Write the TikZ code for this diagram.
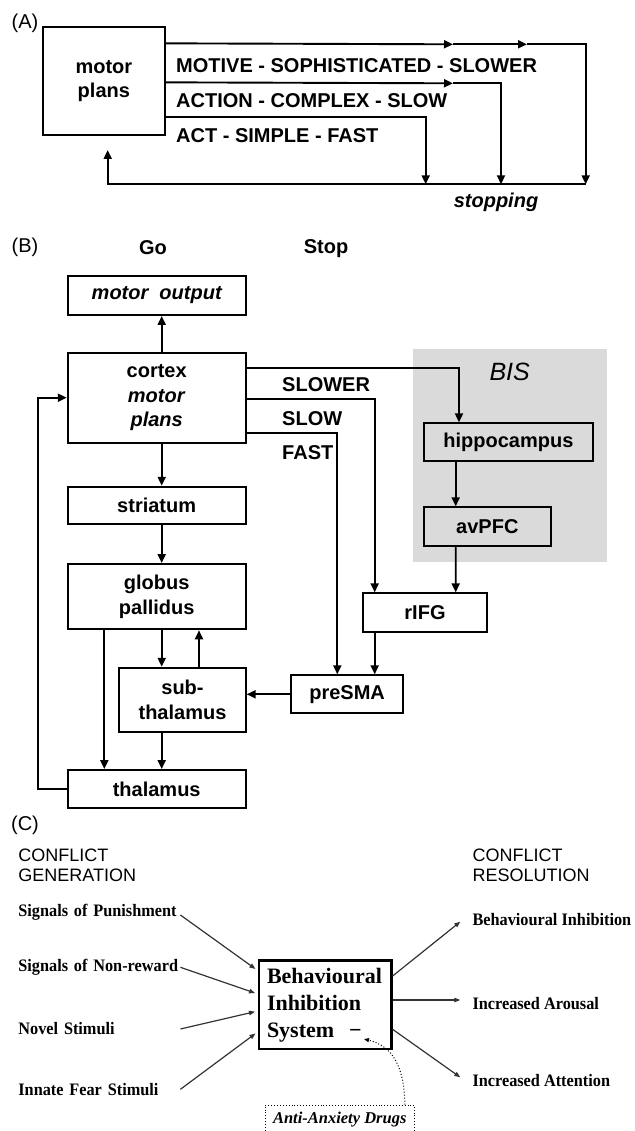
\documentclass[tikz,border=0pt]{standalone}
\usepackage{fontspec}
\setmainfont{Liberation Sans}
\newfontfamily\timesfont{Liberation Serif}
\newfontfamily\itemfont[FakeStretch=0.93]{Liberation Serif}
\usetikzlibrary{arrows.meta,calc}
\definecolor{bisgray}{HTML}{DADADA}

\begin{document}
\begin{tikzpicture}[x=1pt, y=-1pt,
  box/.style={draw, line width=1.9pt, inner sep=0pt, align=center,
    font=\bfseries\fontsize{20}{24.5}\selectfont},
  arr/.style={line width=1.9pt, -{Triangle[length=9pt,width=8pt]}},
  lbl/.style={inner sep=0pt, font=\bfseries\fontsize{20}{24}\selectfont},
  tag/.style={inner sep=0pt, font=\fontsize{20}{24}\selectfont},
  item/.style={inner sep=0pt, anchor=west, align=left,
    font=\itemfont\bfseries\fontsize{17.5}{20}\selectfont},
  thin/.style={line width=1.2pt, black!80, -{Triangle[length=6pt,width=4.5pt]}}]
  \useasboundingbox (0,0) rectangle (634,1131);

  % (A)
  \node[tag] (tagA) at (25,23) {(A)};
  \node[box, minimum width=122.3pt, minimum height=108.3pt] (plans) at (103.85,80.85) {motor\\plans};
  \node[lbl, anchor=base west] (motive) at (176,72.2) {MOTIVE - SOPHISTICATED - SLOWER};
  \node[lbl, anchor=base west] (action) at (176,107.2) {ACTION - COMPLEX - SLOW};
  \node[lbl, anchor=base west] (act) at (176,142.2) {ACT - SIMPLE - FAST};
  \node[lbl, font=\bfseries\itshape\fontsize{20}{24}\selectfont] (stopping) at (496,202) {stopping};
  \coordinate (m1) at (453,44.3);
  \coordinate (m2) at (527,44.3);
  \coordinate (m3) at (453,83.3);
  \coordinate (stop1) at (425.7,184.3);
  \coordinate (stop2) at (501,184.3);
  \coordinate (stop3) at (585.7,184.3);
  \coordinate (ret) at (107.7,184.3);
  \coordinate (retend) at (107.7,150);
  \draw[arr] ($(plans.north east)+(0,17.6)$) -- (m1);
  \draw[arr] (m1) -- (m2);
  \draw[arr] (m2) -| (stop3);
  \draw[arr] ($(plans.north east)+(0,56.6)$) -- (m3);
  \draw[arr] (m3) -| (stop2);
  \draw[arr] ($(plans.north east)+(0,91)$) -| (stop1);
  \draw[arr] (stop3) -- (ret) -- (retend);

  % (B)
  \node[tag] (tagB) at (25,247) {(B)};
  \node[lbl] (go) at (153,248) {Go};
  \node[lbl] (stop) at (326,249) {Stop};
  \fill[bisgray] (413,348.7) rectangle (607.3,562.3);
  \node[inner sep=0pt, font=\itshape\fontsize{25}{30}\selectfont] (bis) at (509.7,371.7) {BIS};
  \node[box, minimum width=178pt, minimum height=39pt,
    font=\bfseries\itshape\fontsize{20}{24.5}\selectfont] (motorout) at (156.7,295.5) {motor\ \ output};
  \node[box, minimum width=178pt, minimum height=90pt] (cortex) at (156.7,397.7) {cortex\\\textit{motor}\\\textit{plans}};
  \node[box, minimum width=178pt, minimum height=37.6pt] (striatum) at (156.7,505.5) {striatum};
  \node[box, minimum width=178pt, minimum height=65.3pt] (globus) at (156.7,596.65) {globus\\pallidus};
  \node[box, minimum width=126.4pt, minimum height=64.6pt] (subthal) at (182.5,700) {sub-\\thalamus};
  \node[box, minimum width=178pt, minimum height=38.3pt] (thalamus) at (156.7,789.15) {thalamus};
  \node[box, minimum width=112.3pt, minimum height=38pt] (presma) at (347.15,694.3) {preSMA};
  \node[box, minimum width=124.6pt, minimum height=38.7pt] (rifg) at (425,612.65) {rIFG};
  \node[box, fill=bisgray, minimum width=126.7pt, minimum height=38.4pt] (avpfc) at (487.35,526.5) {avPFC};
  \node[box, fill=bisgray, minimum width=168.7pt, minimum height=38pt] (hippo) at (508.35,442.3) {hippocampus};
  \node[lbl, anchor=base west] (slower) at (282,391.2) {SLOWER};
  \node[lbl, anchor=base west] (slow) at (282,425.2) {SLOW};
  \node[lbl, anchor=base west] (fast) at (282,459.9) {FAST};
  \draw[arr] ($(cortex.north)+(5,0)$) -- ($(motorout.south)+(5,0)$);
  \draw[arr] ($(cortex.south)+(5,0)$) -- ($(striatum.north)+(5,0)$);
  \draw[arr] ($(striatum.south)+(5,0)$) -- ($(globus.north)+(5,0)$);
  \draw[arr] ($(globus.south)+(5,0)$) -- ($(subthal.north)+(-20.8,0)$);
  \draw[arr] ($(subthal.north)+(16.5,0)$) -- ($(globus.south)+(42.3,0)$);
  \draw[arr] ($(globus.south)+(-52.4,0)$) -- ($(thalamus.north)+(-52.4,0)$);
  \draw[arr] ($(subthal.south)+(-20.8,0)$) -- ($(thalamus.north)+(5,0)$);
  \draw[arr] (thalamus.west) -- ++(-28.4,0) |- (cortex.west);
  \draw[arr] ($(cortex.east)+(0,-30)$) -| ($(hippo.north)+(-49.35,0)$);
  \draw[arr] ($(cortex.east)+(0,1.6)$) -| ($(rifg.north)+(-50.3,0)$);
  \draw[arr] ($(cortex.east)+(0,35.6)$) -| ($(presma.north)+(-9.85,0)$);
  \draw[arr] ($(hippo.south)+(-52.65,0)$) -- ($(avpfc.north)+(-31.65,0)$);
  \draw[arr] ($(avpfc.south)+(-31.65,0)$) -- ($(rifg.north)+(30.7,0)$);
  \draw[arr] ($(rifg.south)+(-50.3,0)$) -- ($(presma.north)+(27.55,0)$);
  \draw[arr] (presma.west) -- (presma.west -| subthal.east);

  % (C)
  \node[tag] (tagC) at (25,825) {(C)};
  \node[tag, anchor=west, align=left, font=\fontsize{18}{20}\selectfont] (gen) at (18.2,865) {CONFLICT\\GENERATION};
  \node[tag, anchor=west, align=left, font=\fontsize{18}{20}\selectfont] (res) at (472.3,865) {CONFLICT\\RESOLUTION};
  \node[item, text width=161.8pt] (pun) at (18.2,912.7) {Signals of Punishment};
  \node[item, text width=161.8pt] (nonrew) at (18.2,967.3) {Signals of Non-reward};
  \node[item, text width=161.8pt] (novel) at (18.2,1029) {Novel Stimuli};
  \node[item, text width=161.8pt] (fear) at (18.2,1089.3) {Innate Fear Stimuli};
  \node[item] (behinh) at (472.3,920) {Behavioural Inhibition};
  \node[item] (arousal) at (472.3,1004) {Increased Arousal};
  \node[item] (attn) at (472.3,1080.7) {Increased Attention};
  \node[draw, line width=2.2pt, inner xsep=8pt, inner ysep=0pt, text width=116.5pt,
    minimum height=88.8pt, align=left,
    font=\timesfont\bfseries\fontsize{22}{27}\selectfont] (bisc) at (325.25,1004.9) {Behavioural\\Inhibition\\System\hspace{15pt}−};
  \node[draw, dotted, line width=0.9pt, inner sep=0pt, minimum width=149.5pt, minimum height=30pt,
    font=\timesfont\bfseries\itshape\fontsize{16.5}{20}\selectfont] (drugs) at (339.75,1120) {Anti-Anxiety Drugs};
  \coordinate (drugtip) at (364,1039);
  \draw[thin, shorten >=3pt] ($(pun.east)+(0,2.3)$) -- ($(bisc.west)+(0,-34.2)$);
  \draw[thin, shorten >=3pt] (nonrew.east) -- ($(bisc.west)+(0,-10.9)$);
  \draw[thin, shorten >=3pt] (novel.east) -- ($(bisc.west)+(0,6.1)$);
  \draw[thin, shorten >=3pt] (fear.east) -- ($(bisc.west)+(0,26.8)$);
  \draw[thin] ($(bisc.east)+(0,-28.9)$) -- ($(behinh.west)+(-12,1.7)$);
  \draw[thin] ($(bisc.east)+(0,-4.9)$) -- ($(arousal.west)+(-12,-4)$);
  \draw[thin] ($(bisc.east)+(0,24.4)$) -- ($(attn.west)+(-12,-3.4)$);
  \draw[dotted, line width=1pt, -{Triangle[length=5pt,width=4pt]}] ($(drugs.north east)+(-10,0)$)
    .. controls (404,1065) and (392,1046) .. (drugtip);
\end{tikzpicture}
\end{document}
